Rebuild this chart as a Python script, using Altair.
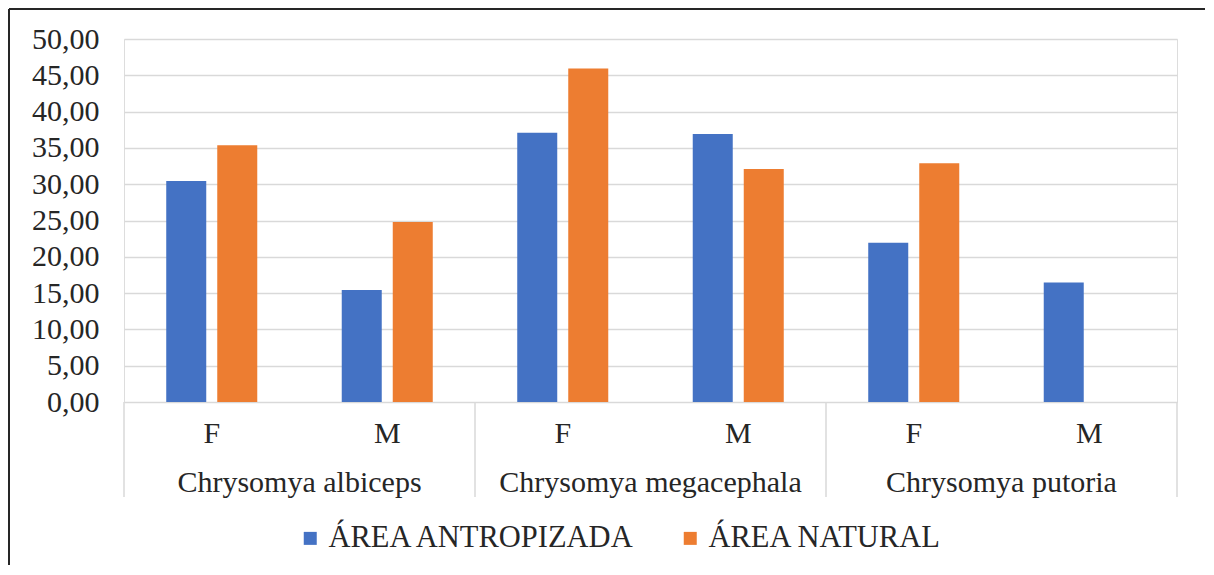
import altair as alt
import pandas as pd

species = ["Chrysomya albiceps", "Chrysomya megacephala", "Chrysomya putoria"]
sexes = ["F", "M"]
series = ["ÁREA ANTROPIZADA", "ÁREA NATURAL"]
antropizada = [30.45, 15.41, 37.07, 36.93, 21.94, 16.47]
natural = [35.38, 24.80, 45.94, 32.10, 32.89, None]
colors = ["#4472C4", "#ED7D31"]
y_ticks = [0, 5, 10, 15, 20, 25, 30, 35, 40, 45, 50]

FONT = "'Liberation Serif', 'Times New Roman', 'DejaVu Serif', serif"
W, H = 1053, 363

cats = [f"{s}|{x}" for s in species for x in sexes]
rows = []
for i, c in enumerate(cats):
    for name, vals in zip(series, [antropizada, natural]):
        if vals[i] is not None:
            rows.append({"cat": c, "serie": name, "valor": vals[i]})
df = pd.DataFrame(rows)

xscale = alt.Scale(domain=cats, paddingInner=0, paddingOuter=0)

bars = alt.Chart(df).mark_bar().encode(
    x=alt.X("cat:N", scale=xscale, sort=cats,
            axis=alt.Axis(title=None, labelExpr="split(datum.label, '|')[1]",
                          labelAngle=0, labelFont=FONT, labelFontSize=30,
                          labelColor="#262626", labelBaseline="middle",
                          labelPadding=31, ticks=False, tickSize=0, domain=False,
                          grid=False)),
    xOffset=alt.XOffset("serie:N", scale=alt.Scale(domain=series, paddingInner=0.2157,
                                                   paddingOuter=0.828)),
    y=alt.Y("valor:Q", scale=alt.Scale(domain=[0, 50], nice=False),
            axis=alt.Axis(title=None, values=y_ticks,
                          labelExpr="replace(format(datum.value, '.2f'), '.', ',')",
                          labelFont=FONT, labelFontSize=30, labelColor="#262626",
                          labelPadding=25, ticks=False, domain=False,
                          grid=True, gridColor="#d9d9d9", gridWidth=1.5)),
    color=alt.Color("serie:N", scale=alt.Scale(domain=series, range=colors),
                    legend=alt.Legend(title=None, orient="none", legendX=171, legendY=484,
                                      direction="horizontal", symbolType="square",
                                      symbolSize=169, symbolStrokeWidth=0,
                                      labelFont=FONT, labelFontSize=30.5,
                                      labelColor="#262626", labelOffset=3,
                                      labelLimit=600, columnPadding=38)),
)

# divider lines of the grouped category axis
first_cats = [f"{s}|F" for s in species]
div_df = pd.DataFrame({"cat": first_cats})
dividers = alt.Chart(div_df).mark_rule(color="#d9d9d9", strokeWidth=1.5).encode(
    x=alt.X("cat:N", scale=xscale, sort=cats, bandPosition=0),
    y=alt.value(H),
    y2=alt.value(H + 95),
)
end_df = pd.DataFrame({"cat": [cats[-1]]})
end_div = alt.Chart(end_df).mark_rule(color="#d9d9d9", strokeWidth=1.5).encode(
    x=alt.X("cat:N", scale=xscale, sort=cats, bandPosition=1),
    y=alt.value(H),
    y2=alt.value(H + 95),
)

sp_df = pd.DataFrame({"cat": first_cats, "especie": species})
sp_labels = alt.Chart(sp_df).mark_text(font=FONT, fontSize=30, color="#262626",
                                       baseline="middle", align="center").encode(
    x=alt.X("cat:N", scale=xscale, sort=cats, bandPosition=1),
    y=alt.value(H + 81),
    text="especie:N",
)

one = pd.DataFrame({"a": [0]})
frame_top = alt.Chart(one).mark_rule(color="#262626", strokeWidth=2).encode(
    x=alt.value(-115), x2=alt.value(W + 28), y=alt.value(-30))
frame_left = alt.Chart(one).mark_rule(color="#262626", strokeWidth=2).encode(
    x=alt.value(-115), y=alt.value(-30), y2=alt.value(H + 170))

chart = alt.layer(bars, dividers, end_div, sp_labels, frame_top, frame_left).properties(
    width=W, height=H,
    autosize=alt.AutoSizeParams(type="none"),
    padding={"left": 116, "top": 31, "right": 28, "bottom": 163},
).configure_view(stroke=None).configure(background="white")

chart.save("out.html", embed_options={"renderer": "svg", "actions": False})
